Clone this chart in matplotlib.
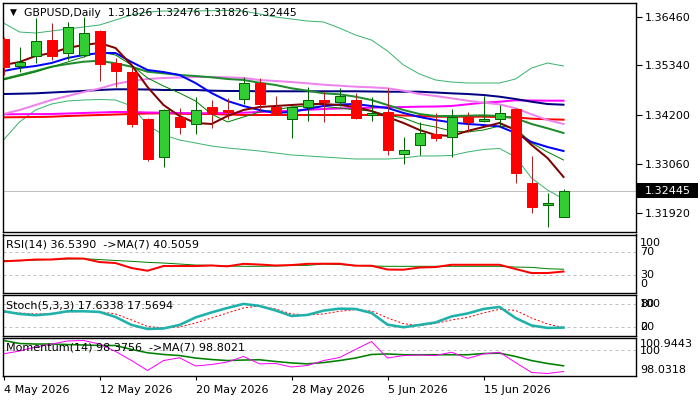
import matplotlib
matplotlib.use("Agg")
import matplotlib.pyplot as plt
import matplotlib.transforms as mtransforms
from matplotlib.patches import Rectangle

plt.rcParams['font.family'] = ['DejaVu Sans']

# ---- data (one value per daily bar) ----
dates = ["4 May 2026", "12 May 2026", "20 May 2026", "28 May 2026", "5 Jun 2026", "15 Jun 2026"]
date_idx = [0, 6, 12, 18, 24, 30]

opens = [1.35938, 1.35322, 1.35553, 1.35915, 1.35629, 1.35576, 1.36130, 1.35384, 1.35183, 1.34098,
         1.33213, 1.34144, 1.33989, 1.34375, 1.34306, 1.34567, 1.34922, 1.34368, 1.34091, 1.34368,
         1.34537, 1.34497, 1.34537, 1.34183, 1.34253, 1.33283, 1.33491, 1.33745, 1.33689, 1.34137,
         1.34045, 1.34091, 1.34329, 1.32620, 1.32119, 1.31826]
highs = [1.35992, 1.35754, 1.36423, 1.36308, 1.36331, 1.36460, 1.36153, 1.35500, 1.35306, 1.34121,
         1.34329, 1.34345, 1.34613, 1.34537, 1.34583, 1.35061, 1.35038, 1.34629, 1.34398, 1.34830,
         1.34752, 1.34821, 1.34691, 1.34599, 1.34807, 1.33689, 1.34036, 1.34230, 1.34329, 1.34253,
         1.34629, 1.34421, 1.34345, 1.33250, 1.32396, 1.32476]
lows = [1.35114, 1.35190, 1.35391, 1.35460, 1.35460, 1.35523, 1.34982, 1.34830, 1.33920, 1.33135,
        1.32996, 1.33752, 1.33745, 1.33897, 1.34098, 1.34444, 1.34306, 1.34190, 1.33652, 1.34059,
        1.34036, 1.34398, 1.34091, 1.34059, 1.33260, 1.33052, 1.33274, 1.33597, 1.33227, 1.33805,
        1.34029, 1.33920, 1.32613, 1.31920, 1.31611, 1.31826]
closes = [1.35306, 1.35414, 1.35892, 1.35553, 1.36216, 1.36077, 1.35361, 1.35200, 1.33989, 1.33181,
          1.34299, 1.33920, 1.34299, 1.34230, 1.34271, 1.34922, 1.34437, 1.34230, 1.34382, 1.34537,
          1.34497, 1.34622, 1.34128, 1.34230, 1.33389, 1.33375, 1.33768, 1.33652, 1.34137, 1.34022,
          1.34098, 1.34230, 1.32844, 1.32059, 1.32165, 1.32445]

ma_maroon = [1.35345, 1.35414, 1.35553, 1.35622, 1.35738, 1.35807, 1.35853, 1.35738, 1.35345, 1.34837,
             1.34421, 1.34167, 1.34006, 1.33983, 1.34167, 1.34306, 1.34375, 1.34398, 1.34421, 1.34444,
             1.34444, 1.34421, 1.34375, 1.34283, 1.34144, 1.34006, 1.33844, 1.33728, 1.33705, 1.33821,
             1.33913, 1.34006, 1.33844, 1.33498, 1.33197, 1.32759]
ma_blue = [1.35206, 1.35276, 1.35322, 1.35391, 1.35507, 1.35576, 1.35622, 1.35622, 1.35414, 1.35230,
           1.35183, 1.35114, 1.34929, 1.34698, 1.34514, 1.34398, 1.34306, 1.34237, 1.34260, 1.34329,
           1.34398, 1.34433, 1.34444, 1.34398, 1.34352, 1.34237, 1.34144, 1.34075, 1.34017, 1.33983,
           1.33959, 1.33925, 1.33775, 1.33567, 1.33451, 1.33359]
ma_green = [1.35022, 1.35114, 1.35206, 1.35306, 1.35368, 1.35421, 1.35444, 1.35384, 1.35306, 1.35190,
            1.35153, 1.35114, 1.35091, 1.35061, 1.35022, 1.34999, 1.34936, 1.34883, 1.34807, 1.34752,
            1.34691, 1.34668, 1.34613, 1.34537, 1.34421, 1.34306, 1.34213, 1.34167, 1.34167, 1.34174,
            1.34183, 1.34167, 1.34114, 1.33983, 1.33883, 1.33775]
ma_thin = [1.34999, 1.35091, 1.35183, 1.35299, 1.35414, 1.35530, 1.35645, 1.35576, 1.35345, 1.35045,
           1.34860, 1.34698, 1.34514, 1.34213, 1.34029, 1.34144, 1.34260, 1.34306, 1.34375, 1.34398,
           1.34387, 1.34352, 1.34306, 1.34283, 1.34190, 1.34121, 1.33983, 1.33913, 1.33821, 1.33798,
           1.33844, 1.33936, 1.33890, 1.33544, 1.33336, 1.33151]
ma_violet = [1.34213, 1.34306, 1.34421, 1.34537, 1.34629, 1.34721, 1.34802, 1.34906, 1.34976, 1.35022,
             1.35045, 1.35056, 1.35068, 1.35068, 1.35061, 1.35045, 1.34999, 1.34976, 1.34952, 1.34922,
             1.34890, 1.34867, 1.34844, 1.34830, 1.34807, 1.34752, 1.34675, 1.34629, 1.34576, 1.34521,
             1.34474, 1.34437, 1.34345, 1.34206, 1.34075, 1.33983]
ma_navy = [1.34675, 1.34682, 1.34691, 1.34710, 1.34728, 1.34745, 1.34768, 1.34784, 1.34784, 1.34779,
           1.34768, 1.34768, 1.34768, 1.34752, 1.34745, 1.34745, 1.34738, 1.34738, 1.34738, 1.34738,
           1.34738, 1.34738, 1.34738, 1.34733, 1.34728, 1.34728, 1.34728, 1.34710, 1.34691, 1.34675,
           1.34652, 1.34613, 1.34560, 1.34497, 1.34444, 1.34428]
ma_magenta = [1.34206, 1.34209, 1.34211, 1.34213, 1.34225, 1.34237, 1.34248, 1.34260, 1.34260, 1.34248,
              1.34243, 1.34237, 1.34230, 1.34230, 1.34237, 1.34243, 1.34260, 1.34271, 1.34290, 1.34310,
              1.34329, 1.34340, 1.34352, 1.34359, 1.34368, 1.34375, 1.34382, 1.34387, 1.34398, 1.34437,
              1.34474, 1.34497, 1.34530, 1.34525, 1.34521, 1.34521]
ma_red = [1.34137, 1.34140, 1.34144, 1.34151, 1.34167, 1.34179, 1.34190, 1.34202, 1.34213, 1.34225,
          1.34230, 1.34220, 1.34213, 1.34213, 1.34202, 1.34190, 1.34190, 1.34190, 1.34190, 1.34190,
          1.34190, 1.34190, 1.34190, 1.34190, 1.34190, 1.34179, 1.34167, 1.34151, 1.34151, 1.34151,
          1.34151, 1.34144, 1.34137, 1.34105, 1.34091, 1.34082]
bb_upper = [1.36315, 1.36107, 1.36084, 1.36130, 1.36176, 1.36222, 1.36269, 1.36384, 1.36500, 1.36569,
            1.36592, 1.36592, 1.36592, 1.36599, 1.36603, 1.36592, 1.36523, 1.36453, 1.36407, 1.36361,
            1.36338, 1.36199, 1.36038, 1.35922, 1.35668, 1.35345, 1.35137, 1.34999, 1.34952, 1.34929,
            1.34929, 1.34929, 1.35022, 1.35276, 1.35391, 1.35322]
bb_lower = [1.33613, 1.34029, 1.34306, 1.34444, 1.34514, 1.34537, 1.34548, 1.34537, 1.34398, 1.33959,
            1.33728, 1.33613, 1.33544, 1.33474, 1.33428, 1.33394, 1.33359, 1.33313, 1.33267, 1.33244,
            1.33220, 1.33197, 1.33174, 1.33174, 1.33174, 1.33197, 1.33244, 1.33244, 1.33255, 1.33336,
            1.33394, 1.33417, 1.33220, 1.32735, 1.32458, 1.32251]

rsi = [54.3, 55.7, 57.4, 57.4, 59.5, 59.1, 53.0, 51.3, 42.6, 37.9, 46.1, 46.1, 46.1, 47.0, 45.6, 49.9,
       48.7, 47.0, 47.8, 49.9, 50.1, 50.1, 46.6, 46.6, 40.0, 39.7, 43.5, 44.3, 48.3, 48.3, 48.3, 48.3,
       40.9, 33.9, 33.9, 36.539]
rsi_ma = [55.3, 55.3, 56.5, 57.7, 58.3, 58.8, 57.4, 55.7, 54.3, 52.5, 51.3, 49.6, 47.8, 47.3, 46.1, 45.6,
          45.6, 46.1, 47.0, 47.3, 49.6, 48.7, 47.3, 46.1, 45.6, 45.6, 45.6, 45.6, 45.6, 45.6, 45.6, 45.6,
          44.3, 43.8, 41.4, 40.506]
stoch_k = [60.8, 53.7, 50.3, 53.7, 60.8, 60.8, 59.0, 45.8, 24.6, 14.0, 15.3, 24.6, 44.4, 57.7, 69.6, 80.2,
           74.9, 63.0, 48.4, 51.1, 62.4, 67.7, 66.9, 56.3, 25.4, 18.5, 24.6, 31.2, 47.1, 55.0, 66.9, 72.2,
           43.1, 23.3, 16.7, 17.634]
stoch_d = [57.7, 56.3, 53.7, 55.0, 59.0, 60.3, 59.8, 53.7, 37.8, 20.6, 16.7, 19.3, 29.9, 43.1, 56.3, 69.6,
           74.9, 66.9, 53.7, 51.1, 53.7, 60.8, 65.1, 61.6, 43.1, 28.0, 22.8, 28.6, 37.8, 44.4, 56.3, 66.1,
           63.0, 43.1, 27.2, 17.569]
mom = [99.71, 99.92, 100.23, 100.45, 100.68, 100.72, 100.45, 99.89, 99.20, 98.45, 99.20, 99.41, 98.79,
       98.90, 99.09, 99.51, 98.95, 98.98, 98.71, 98.83, 99.20, 99.43, 100.04, 100.64, 99.39, 99.58, 99.62,
       99.58, 99.83, 99.36, 99.70, 99.83, 99.05, 98.30, 98.22, 98.3756]
mom_ma = [100.72, 100.49, 100.45, 100.45, 100.41, 100.38, 100.34, 100.34, 100.04, 99.79, 99.66, 99.58,
          99.39, 99.28, 99.20, 99.24, 99.26, 99.13, 99.02, 98.95, 99.05, 99.20, 99.39, 99.66, 99.70, 99.64,
          99.64, 99.64, 99.64, 99.64, 99.73, 99.76, 99.51, 99.20, 98.98, 98.8021]

price_ticks = [1.36460, 1.35340, 1.34200, 1.33060, 1.31920]
last_price = 1.32445

W, H = 700, 400
n = len(closes)
idx = list(range(n))


def panel(top, bottom):
    # pixel box -> figure axes
    a = fig.add_axes([2.5 / W, 1 - bottom / H, 633.5 / W, (bottom - top) / H])
    a.set_xlim(-0.0625, 39.53)
    for s in a.spines.values():
        s.set_color("black")
        s.set_linewidth(1.0)
    a.set_xticks([])
    a.set_yticks([])
    return a


fig = plt.figure(figsize=(7, 4), dpi=100)
fig.patch.set_facecolor("white")

ax = panel(2.7, 232)
ax_rsi = panel(234.5, 292.5)
ax_st = panel(295, 335.5)
ax_mom = panel(337.5, 376)

# ---- main chart ----
ax.set_ylim(1.31488, 1.36784)
px = 0.72  # one pixel in points
ax.plot(idx, bb_upper, color="#3CB371", lw=px, zorder=2)
ax.plot(idx, bb_lower, color="#3CB371", lw=px, zorder=2)
ax.plot(idx, ma_red, color="#FF0000", lw=2 * px, zorder=2)
ax.plot(idx, ma_magenta, color="#FF00FF", lw=2 * px, zorder=2)
ax.plot(idx, ma_navy, color="#000080", lw=2 * px, zorder=2)
ax.plot(idx, ma_violet, color="#EE82EE", lw=2 * px, zorder=2)
ax.plot(idx, ma_green, color="#1E8C2E", lw=2 * px, zorder=2)
ax.plot(idx, ma_thin, color="#008000", lw=px, zorder=2)
ax.plot(idx, ma_blue, color="#0000FF", lw=2 * px, zorder=2)
ax.plot(idx, ma_maroon, color="#800000", lw=2 * px, zorder=2)

ax.axhline(last_price, color="#C0C0C0", lw=px, zorder=1)

bw = 10 / 16
for i in idx:
    o, h, l, c = opens[i], highs[i], lows[i], closes[i]
    up = c >= o
    wick = "#006400" if up else "#B22222"
    ax.vlines(i, l, h, color=wick, lw=px, zorder=3)
    body = max(abs(c - o), 0.00012)
    ax.add_patch(Rectangle((i - bw / 2, min(o, c)), bw, body,
                           facecolor="#32CD32" if up else "#FF0000",
                           edgecolor="#006400" if up else "#FF0000",
                           lw=px, zorder=4))

ax.yaxis.tick_right()
ax.set_yticks(price_ticks)
ax.set_yticklabels([f"{p:.5f}" for p in price_ticks])
ax.tick_params(axis="y", length=4, width=0.8, pad=2, labelsize=8, colors="black")

# current price tag
fig.add_artist(Rectangle((637 / W, 1 - 198 / H), 61 / W, 15 / H, transform=fig.transFigure,
                         facecolor="black", edgecolor="black", lw=0))
fig.text(667.5 / W, 1 - 190.6 / H, f"{last_price:.5f}", color="white", fontsize=8,
         va="center", ha="center")

ax.text(7 / 633.5, 1 - 10 / 229.3, "\u25BC", transform=ax.transAxes, fontsize=6.5, va="center", ha="left")
ax.text(21 / 633.5, 1 - 10 / 229.3, "GBPUSD,Daily  1.31826 1.32476 1.31826 1.32445",
        transform=ax.transAxes, fontsize=7.8, va="center", ha="left")

# ---- RSI ----
ax_rsi.set_ylim(0, 101)
for lv in (70, 30):
    ax_rsi.axhline(lv, color="#C0C0C0", lw=px, ls=(0, (3, 3)))
ax_rsi.plot(idx, rsi_ma, color="#008000", lw=px)
ax_rsi.plot(idx, rsi, color="#FF0000", lw=2 * px)
ax_rsi.text(4 / 633.5, 0.82, "RSI(14) 36.5390  ->MA(7) 40.5059", transform=ax_rsi.transAxes,
            fontsize=8, va="center")
tr = mtransforms.blended_transform_factory(ax_rsi.transAxes, ax_rsi.transData)
for lab, y in (("100", 85.5), ("70", 70), ("30", 30), ("0", 15)):
    ax_rsi.text(1.006, y, lab, transform=tr, fontsize=8, va="center", ha="left")

# ---- Stochastic ----
ax_st.set_ylim(-3.3, 103.8)
for lv in (80, 20):
    ax_st.axhline(lv, color="#C0C0C0", lw=px, ls=(0, (3, 3)))
ax_st.plot(idx, stoch_d, color="#FF0000", lw=px, ls=(0, (2, 2)))
ax_st.plot(idx, stoch_k, color="#20B2AA", lw=2.6 * px)
ax_st.text(4 / 633.5, 0.73, "Stoch(5,3,3) 17.6338 17.5694", transform=ax_st.transAxes,
           fontsize=8, va="center")
tr = mtransforms.blended_transform_factory(ax_st.transAxes, ax_st.transData)
for lab, y in (("100", 80), ("80", 80), ("20", 20), ("0", 20)):
    ax_st.text(1.006, y, lab, transform=tr, fontsize=8, va="center", ha="left")

# ---- Momentum ----
ax_mom.set_ylim(98.0318, 100.9443)
ax_mom.axhline(100, color="#C0C0C0", lw=px, ls=(0, (3, 3)))
ax_mom.plot(idx, mom_ma, color="#008000", lw=1.6 * px)
ax_mom.plot(idx, mom, color="#FF00FF", lw=px)
ax_mom.text(4 / 633.5, 0.74, "Momentum(14) 98.3756  ->MA(7) 98.8021", transform=ax_mom.transAxes,
            fontsize=8, va="center")
tr = mtransforms.blended_transform_factory(ax_mom.transAxes, ax_mom.transData)
ax_mom.text(1.006, 100.48, "100.9443", transform=tr, fontsize=8, va="center", ha="left")
ax_mom.text(1.006, 99.95, "100", transform=tr, fontsize=8, va="center", ha="left")
ax_mom.text(1.006, 98.5, "98.0318", transform=tr, fontsize=8, va="center", ha="left")

ax_mom.set_xticks(date_idx)
ax_mom.set_xticklabels(dates, ha="left", fontsize=8)
ax_mom.tick_params(axis="x", length=3, width=0.8, pad=3.5, colors="black")

fig.savefig("out.png", dpi=100)
